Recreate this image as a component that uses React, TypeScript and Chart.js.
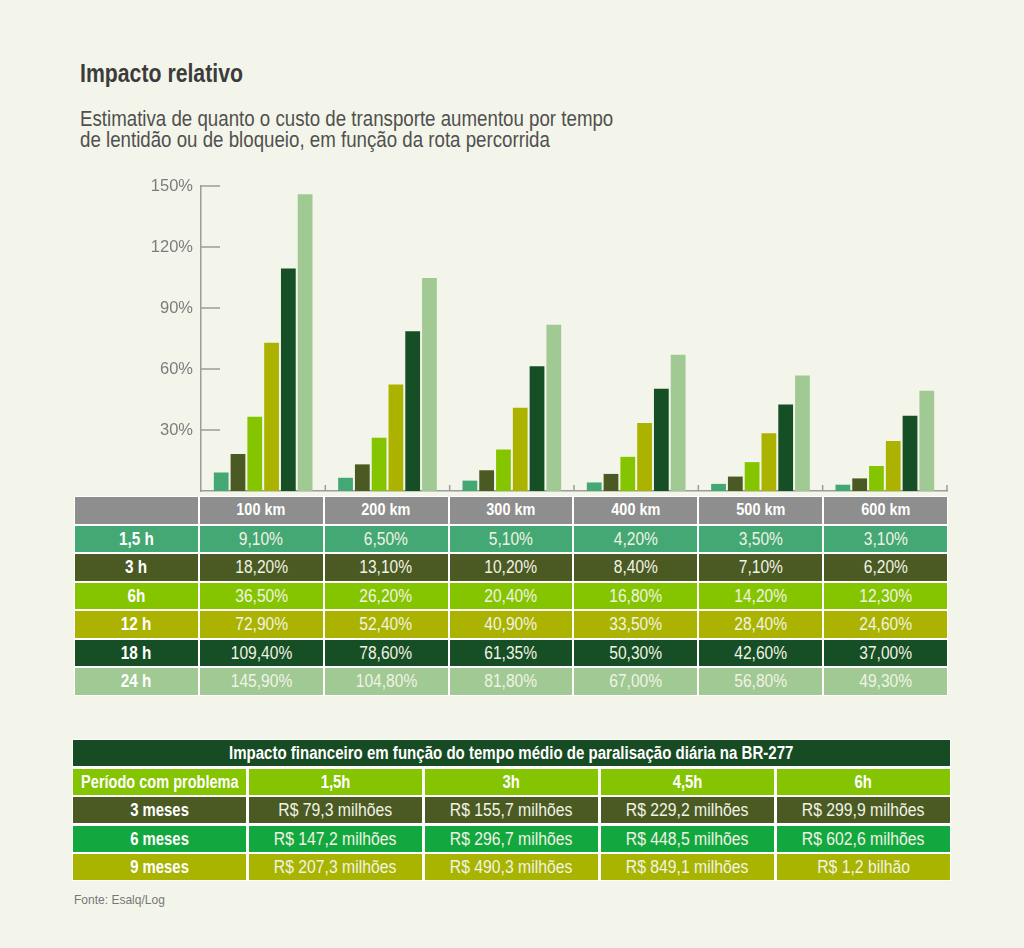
import React, { useEffect, useRef } from "react";
import { Chart, registerables } from "chart.js";

Chart.register(...registerables);

const FONT = "'Liberation Sans', Arial, Helvetica, sans-serif";
const BG = "#f4f5ea";
const AXIS_COLOR = "#9c9c9c";

// Chart / table 1 data
const categories = ["100 km", "200 km", "300 km", "400 km", "500 km", "600 km"];
const seriesLabels = ["1,5 h", "3 h", "6h", "12 h", "18 h", "24 h"];
const seriesColors = ["#43a874", "#4b5a23", "#85c500", "#abb300", "#164f25", "#a0c994"];
const values15h = [9.1, 6.5, 5.1, 4.2, 3.5, 3.1];
const values3h = [18.2, 13.1, 10.2, 8.4, 7.1, 6.2];
const values6h = [36.5, 26.2, 20.4, 16.8, 14.2, 12.3];
const values12h = [72.9, 52.4, 40.9, 33.5, 28.4, 24.6];
const values18h = [109.4, 78.6, 61.35, 50.3, 42.6, 37.0];
const values24h = [145.9, 104.8, 81.8, 67.0, 56.8, 49.3];
const seriesValues = [values15h, values3h, values6h, values12h, values18h, values24h];
const yTicks = [0, 30, 60, 90, 120, 150];

// Table 2 data
const finTitle = "Impacto financeiro em função do tempo médio de paralisação diária na BR-277";
const finHeader = "Período com problema";
const finCols = ["1,5h", "3h", "4,5h", "6h"];
const finRows = ["3 meses", "6 meses", "9 meses"];
const finRowColors = ["#4b5a23", "#13a83f", "#a9b400"];
const fin3m = ["R$ 79,3 milhões", "R$ 155,7 milhões", "R$ 229,2 milhões", "R$ 299,9 milhões"];
const fin6m = ["R$ 147,2 milhões", "R$ 296,7 milhões", "R$ 448,5 milhões", "R$ 602,6 milhões"];
const fin9m = ["R$ 207,3 milhões", "R$ 490,3 milhões", "R$ 849,1 milhões", "R$ 1,2 bilhão"];
const finValues = [fin3m, fin6m, fin9m];

const fmtPct = (v: number) => v.toFixed(2).replace(".", ",") + "%";

const innerTicks = {
  id: "innerTicks",
  afterDatasetsDraw(chart: any) {
    const { ctx, chartArea, scales } = chart;
    const x = scales.x;
    const y = scales.y;
    ctx.save();
    ctx.strokeStyle = AXIS_COLOR;
    ctx.lineWidth = 1.5;
    y.ticks.forEach((t: any) => {
      if (t.value === 0) return;
      const py = y.getPixelForValue(t.value);
      ctx.beginPath();
      ctx.moveTo(chartArea.left, py);
      ctx.lineTo(chartArea.left + 19, py);
      ctx.stroke();
    });
    const n = x.ticks.length;
    const step = n > 1 ? x.getPixelForValue(1) - x.getPixelForValue(0) : chartArea.right - chartArea.left;
    for (let i = 1; i <= n; i++) {
      const px = x.getPixelForValue(i - 1) + step / 2;
      ctx.beginPath();
      ctx.moveTo(px, chartArea.bottom);
      ctx.lineTo(px, chartArea.bottom - 6);
      ctx.stroke();
    }
    ctx.restore();
  },
};

function BarChart() {
  const ref = useRef<HTMLCanvasElement>(null);
  useEffect(() => {
    if (!ref.current) return;
    const chart = new Chart(ref.current, {
      type: "bar",
      data: {
        labels: categories,
        datasets: seriesLabels.map((label, i) => ({
          label,
          data: seriesValues[i],
          backgroundColor: seriesColors[i],
          borderWidth: 0,
          categoryPercentage: 0.81,
          barPercentage: 0.88,
        })),
      },
      options: {
        animation: false,
        responsive: false,
        maintainAspectRatio: false,
        events: [],
        layout: { padding: { top: 10, right: 8, left: 0, bottom: 0 } },
        plugins: { legend: { display: false }, tooltip: { enabled: false } },
        scales: {
          x: {
            grid: { display: false, drawTicks: false },
            border: { display: true, color: AXIS_COLOR, width: 1.5 },
            ticks: { display: false },
            afterFit: (s: any) => {
              s.height = 10;
              s.paddingLeft = 0;
              s.paddingRight = 0;
            },
          },
          y: {
            min: 0,
            max: 150,
            afterBuildTicks: (s: any) => {
              s.ticks = yTicks.map((v) => ({ value: v }));
            },
            grid: { display: false, drawTicks: false, tickLength: 0 },
            border: { display: true, color: AXIS_COLOR, width: 1.5 },
            ticks: {
              padding: 8,
              color: "#7c7c7c",
              font: { size: 16.5, family: FONT },
              callback: (v: any) => (Number(v) === 0 ? "" : v + "%"),
            },
            afterFit: (s: any) => {
              s.width = 61;
              s.paddingTop = 0;
              s.paddingBottom = 0;
            },
          },
        },
      },
      plugins: [innerTicks],
    });
    return () => chart.destroy();
  }, []);
  return (
    <canvas
      ref={ref}
      width={815}
      height={325}
      style={{ position: "absolute", left: 140, top: 176, width: 815, height: 325 }}
    />
  );
}

const S = ({ s, children }: { s: number; children: React.ReactNode }) => (
  <span style={{ display: "inline-block", whiteSpace: "nowrap", transform: `scaleX(${s})`, transformOrigin: "center" }}>
    {children}
  </span>
);

const cellBase: React.CSSProperties = {
  display: "flex",
  alignItems: "center",
  justifyContent: "center",
  color: "#f1f3e4",
  whiteSpace: "nowrap",
  overflow: "visible",
  minWidth: 0,
  fontSize: 17.5,
  lineHeight: "20px",
};
const boldCell: React.CSSProperties = { ...cellBase, fontWeight: 700, fontSize: 17.5, color: "#ffffff" };
const BOLD_S = 0.85;
const REG_S = 0.89;

function Table1() {
  return (
    <div
      style={{
        position: "absolute",
        left: 74,
        top: 496,
        width: 874,
        display: "grid",
        gridTemplateColumns: "repeat(7, minmax(0, 1fr))",
        gridAutoRows: "26.5px",
        gap: 2,
        padding: 1,
        boxSizing: "border-box",
        background: "#ffffff",
      }}
    >
      <div style={{ ...cellBase, background: "#8e8e8e" }} />
      {categories.map((c) => (
        <div key={c} style={{ ...boldCell, fontSize: 17, background: "#8e8e8e" }}>
          <S s={BOLD_S}>{c}</S>
        </div>
      ))}
      {seriesLabels.map((s, i) => (
        <React.Fragment key={s}>
          <div style={{ ...boldCell, fontSize: 18, background: seriesColors[i] }}>
            <S s={BOLD_S}>{s}</S>
          </div>
          {seriesValues[i].map((v, j) => (
            <div key={j} style={{ ...cellBase, background: seriesColors[i] }}>
              <S s={REG_S}>{fmtPct(v)}</S>
            </div>
          ))}
        </React.Fragment>
      ))}
    </div>
  );
}

function Table2() {
  return (
    <div
      style={{
        position: "absolute",
        left: 72,
        top: 739,
        width: 879,
        display: "grid",
        gridTemplateColumns: "repeat(5, minmax(0, 1fr))",
        gridAutoRows: "26px",
        columnGap: 3,
        rowGap: 2.5,
        padding: 1,
        boxSizing: "border-box",
        background: "#ffffff",
      }}
    >
      <div style={{ ...boldCell, gridColumn: "1 / span 5", background: "#174b24" }}>
        <S s={0.86}>{finTitle}</S>
      </div>
      <div style={{ ...boldCell, background: "#84c400" }}>
        <S s={0.83}>{finHeader}</S>
      </div>
      {finCols.map((c) => (
        <div key={c} style={{ ...boldCell, background: "#84c400" }}>
          <S s={BOLD_S}>{c}</S>
        </div>
      ))}
      {finRows.map((r, i) => (
        <React.Fragment key={r}>
          <div style={{ ...boldCell, background: finRowColors[i] }}>
            <S s={BOLD_S}>{r}</S>
          </div>
          {finValues[i].map((v, j) => (
            <div key={j} style={{ ...cellBase, background: finRowColors[i] }}>
              <S s={0.9}>{v}</S>
            </div>
          ))}
        </React.Fragment>
      ))}
    </div>
  );
}

const leftScaled = (s: number): React.CSSProperties => ({
  display: "inline-block",
  whiteSpace: "nowrap",
  transform: `scaleX(${s})`,
  transformOrigin: "left top",
});

export default function App() {
  return (
    <div
      style={{
        position: "absolute",
        left: 0,
        top: 0,
        width: 1024,
        height: 948,
        background: BG,
        fontFamily: FONT,
        overflow: "hidden",
      }}
    >
      <div style={{ position: "absolute", left: 80, top: 58, fontSize: 25, fontWeight: 700, color: "#3c3c3c", lineHeight: "30px" }}>
        <span style={leftScaled(0.85)}>Impacto relativo</span>
      </div>
      <div style={{ position: "absolute", left: 80, top: 108, fontSize: 22, color: "#505050", lineHeight: "21px" }}>
        <span style={leftScaled(0.85)}>
          Estimativa de quanto o custo de transporte aumentou por tempo
          <br />
          de lentidão ou de bloqueio, em função da rota percorrida
        </span>
      </div>
      <BarChart />
      <Table1 />
      <Table2 />
      <div style={{ position: "absolute", left: 74, top: 892, fontSize: 13.5, color: "#777", lineHeight: "16px" }}>
        <span style={leftScaled(0.89)}>Fonte: Esalq/Log</span>
      </div>
    </div>
  );
}
